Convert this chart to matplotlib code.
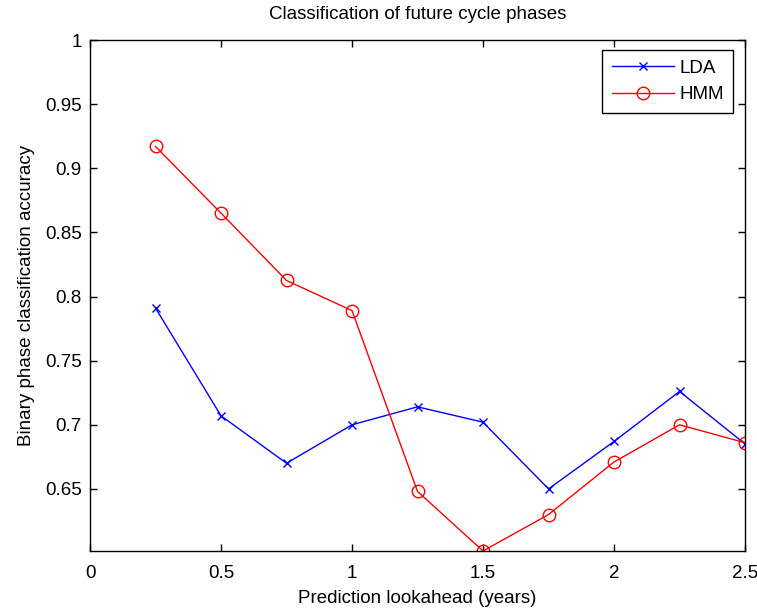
import matplotlib
matplotlib.use("Agg")
import matplotlib.pyplot as plt

lookahead = [0.25, 0.5, 0.75, 1.0, 1.25, 1.5, 1.75, 2.0, 2.25, 2.5]
lda_acc = [0.791, 0.707, 0.670, 0.700, 0.714, 0.702, 0.650, 0.687, 0.726, 0.685]
hmm_acc = [0.917, 0.865, 0.8125, 0.789, 0.648, 0.6016, 0.630, 0.671, 0.700, 0.686]

xticks = [0, 0.5, 1, 1.5, 2, 2.5]
xticklabels = ["0", "0.5", "1", "1.5", "2", "2.5"]
yticks = [0.65, 0.7, 0.75, 0.8, 0.85, 0.9, 0.95, 1.0]
yticklabels = ["0.65", "0.7", "0.75", "0.8", "0.85", "0.9", "0.95", "1"]

plt.rcParams['font.family'] = ['Liberation Sans', 'DejaVu Sans']
plt.rcParams['font.size'] = 13.5

fig = plt.figure(figsize=(7.57, 6.12), dpi=100)
ax = fig.add_axes([0.1189, 0.0997, 0.8653, 0.8349])

ax.plot(lookahead, lda_acc, color="b", marker="x", markersize=6, lw=1, label="LDA")
ax.plot(lookahead, hmm_acc, color="r", marker="o", markersize=9, markerfacecolor="none",
        lw=1, label="HMM")

ax.set_xlim(0, 2.5)
ax.set_ylim(0.6016, 1.0)
ax.set_xticks(xticks)
ax.set_xticklabels(xticklabels)
ax.set_yticks(yticks)
ax.set_yticklabels(yticklabels)
ax.tick_params(direction="in", top=True, right=True, length=5, width=1,
               labelsize=13.5)
ax.tick_params(axis="x", pad=10)
ax.tick_params(axis="y", pad=6)
for s in ax.spines.values():
    s.set_linewidth(1)

ax.set_title("Classification of future cycle phases", fontsize=13.5, pad=15)
ax.set_xlabel("Prediction lookahead (years)", labelpad=6)
ax.set_ylabel("Binary phase classification accuracy", labelpad=7)

leg = ax.legend(loc="upper right", bbox_to_anchor=(0.982, 0.98), borderaxespad=0,
                fancybox=False, edgecolor="black", framealpha=1, borderpad=0.5,
                handlelength=3.3, fontsize=13.5, labelspacing=0.5, handletextpad=0.3)
leg.get_frame().set_linewidth(1)

fig.savefig("out.png", dpi=100)
